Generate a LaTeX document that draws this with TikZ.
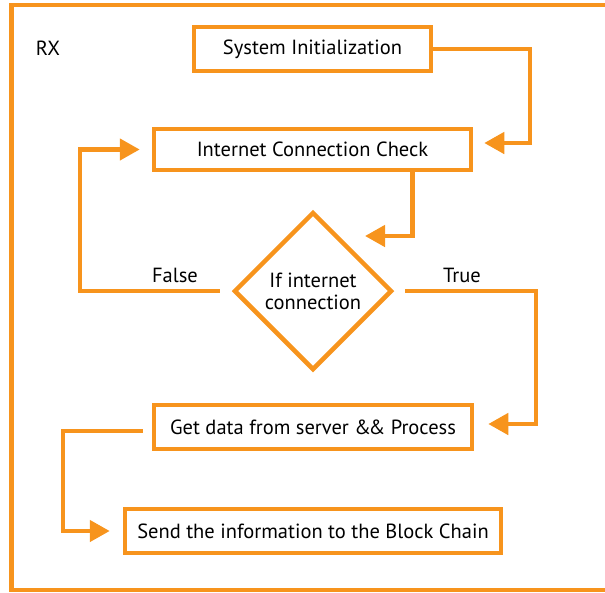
\documentclass[tikz,border=0pt]{standalone}
\usepackage{fontspec}
\setmainfont{PT Sans}
\usepackage{tikz}
\usetikzlibrary{arrows.meta}
\usetikzlibrary{shapes.geometric}
\definecolor{flowor}{HTML}{F7941D}

\begin{document}
\begin{tikzpicture}[x=1pt,y=-1pt,
        box/.style={draw=flowor, line width=4.5pt, inner sep=0pt, minimum height=44pt},
        cond/.style={draw=flowor, line width=4.5pt, diamond, aspect=1, inner sep=0pt,
            minimum width=158pt, minimum height=158pt, align=center},
        flow/.style={draw=flowor, line width=4.5pt, -{Triangle[length=20pt,width=21pt]}},
        lbl/.style={inner sep=0pt}]
        \useasboundingbox (0,0) rectangle (605,592);
        \fontsize{20.5}{25}\selectfont

        % Cornice
        \begin{scope}
            \clip (0,0) rectangle (605,592);
            \draw[flowor, line width=4.5pt] (615,5) -- (11.5,5) -- (11.5,590) -- (615,590);
        \end{scope}
        \node[lbl] (rx) at (48,48) {RX};

        % Blocchi
        \node[box, minimum width=237pt] (init) at (312.5,49) {System Initialization};
        \node[box, minimum width=317pt, minimum height=41pt] (check) at (312.5,149.5) {Internet Connection Check};
        \node[cond] (dec) at (313,291) {If internet\\[-3pt]connection};
        \node[box, minimum width=318pt] (gdata) at (313,427) {Get data from server \&\kern-2.5pt\& Process};
        \node[box, minimum width=376pt] (send) at (313,531) {Send the information to the Block Chain};

        \node[lbl] (lfalse) at (175,275) {False};
        \node[lbl] (ltrue) at (462,275) {True};

        \coordinate (c1) at (530,143);
        \coordinate (c2) at (365,236);
        \coordinate (c3) at (80,250);
        \coordinate (c4) at (536,350);
        \coordinate (c5) at (63,480);

        % Collegamenti
        \draw[flow, shorten >=11pt] (init.east) -| (c1) -- (c1 -| check.east);
        \draw[flow] ([xshift=-61pt]check.south east) |- (c2);
        \draw[flow, shorten <=12pt, shorten >=12pt] (dec.west) -| (c3) |- (check.west);
        \draw[flow, shorten <=11pt, shorten >=14pt] (dec.east) -| (c4) |- ([yshift=3pt]gdata.east);
        \draw[flow, shorten <=9pt, shorten >=13pt] ([yshift=-4pt]gdata.west) -| (c5) |- (send.west);
    \end{tikzpicture}
\end{document}
